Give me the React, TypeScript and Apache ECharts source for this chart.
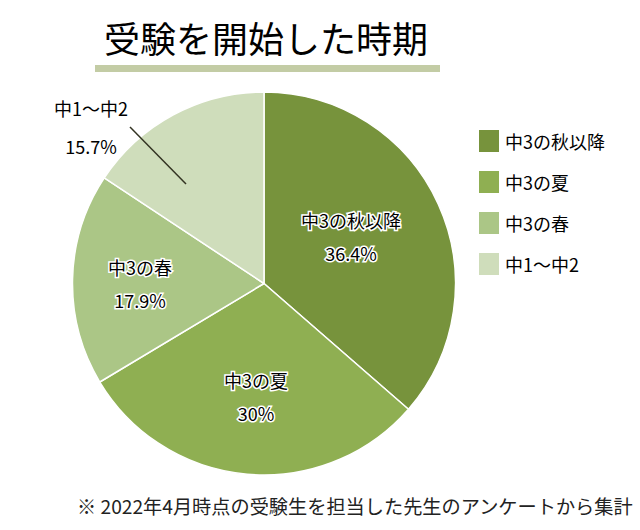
import React, { useEffect, useRef } from "react";
import * as echarts from "echarts";

const categories = ["中3の秋以降", "中3の夏", "中3の春", "中1～中2"];
const values = [36.4, 30, 17.9, 15.7];
const colors = ["#77933c", "#8faf52", "#abc686", "#cfddbb"];
const titleText = "受験を開始した時期";
const footnote = "※ 2022年4月時点の受験生を担当した先生のアンケートから集計";

const FONT = "'Noto Sans CJK JP', 'Noto Sans', sans-serif";

// label anchor positions (style)
const labelAnchors = [
  { x: 351, y: 236 },
  { x: 256, y: 396 },
  { x: 140, y: 283 },
  { x: 91, y: 127 },
];

export default function App() {
  const ref = useRef<HTMLDivElement>(null);
  useEffect(() => {
    if (!ref.current) return;
    const chart = echarts.init(ref.current, null, { renderer: "svg" });
    const data = categories.map((name, i) => ({
      name,
      value: values[i],
      itemStyle: { color: colors[i] },
      label:
        i === 3
          ? { textBorderWidth: 0, lineHeight: 38 }
          : undefined,
    }));
    chart.setOption({
      animation: false,
      backgroundColor: "#ffffff",
      title: {
        text: titleText,
        left: 266,
        top: 19,
        textAlign: "center",
        padding: 0,
        textStyle: {
          fontFamily: FONT,
          fontSize: 36,
          fontWeight: "normal",
          color: "#000",
        },
      },
      legend: {
        orient: "vertical",
        left: 477,
        top: 128,
        padding: 0,
        itemWidth: 22,
        itemHeight: 24,
        itemGap: 15,
        icon: "rect",
        data: categories,
        textStyle: {
          fontFamily: FONT,
          fontSize: 18,
          color: "#000",
          lineHeight: 24,
        },
      },
      graphic: [
        {
          type: "rect",
          shape: { x: 95, y: 65, width: 345, height: 7 },
          style: { fill: "#c3cca5" },
        },
        {
          type: "line",
          shape: { x1: 130, y1: 127, x2: 186, y2: 184 },
          style: { stroke: "#333322", lineWidth: 1.5 },
          z: 100,
        },
        {
          type: "text",
          left: 77,
          top: 496,
          style: {
            text: footnote,
            fontFamily: FONT,
            fontSize: 19.2,
            fill: "#222",
          },
        },
      ],
      series: [
        {
          type: "pie",
          center: [264, 283.5],
          radius: [0, 191.5],
          startAngle: 90,
          clockwise: true,
          data,
          itemStyle: { borderColor: "#ffffff", borderWidth: 1.5 },
          label: {
            show: true,
            position: "inside",
            formatter: (p: any) => `${p.name}\n${p.value}%`,
            fontFamily: FONT,
            fontSize: 18,
            lineHeight: 33,
            color: "#000",
            textBorderColor: "#ffffff",
            textBorderWidth: 3,
            align: "center",
          },
          labelLine: { show: false },
          labelLayout: (params: any) => {
            const a = labelAnchors[params.dataIndex];
            return { x: a.x, y: a.y, align: "center", verticalAlign: "middle" };
          },
          emphasis: { disabled: true },
        },
      ],
    });
    return () => chart.dispose();
  }, []);
  return (
    <div
      ref={ref}
      style={{ position: "fixed", left: 0, top: 0, width: 640, height: 530 }}
    />
  );
}
